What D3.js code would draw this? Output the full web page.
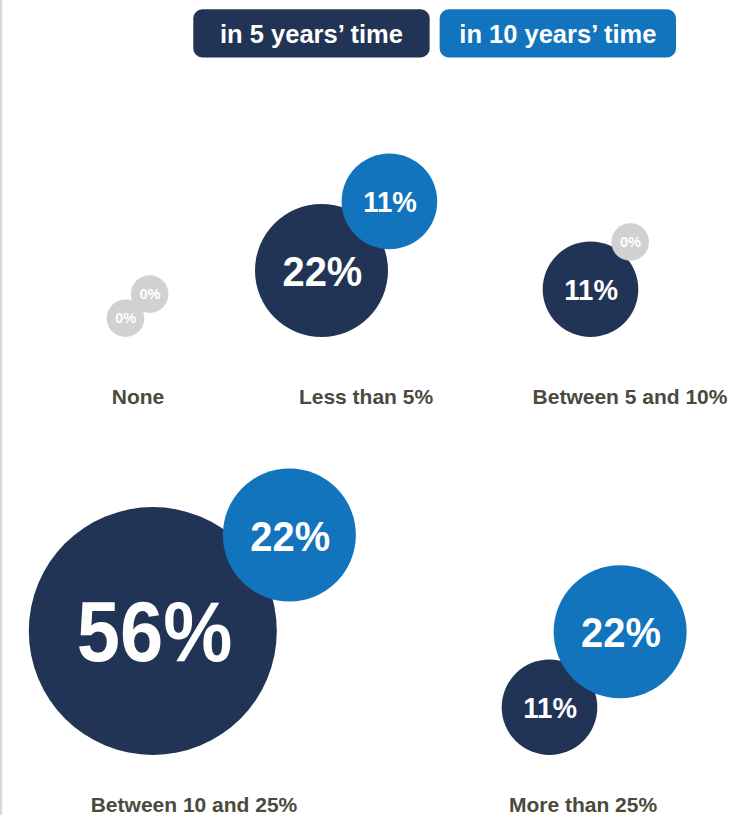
<!DOCTYPE html>
<html>
<head>
<meta charset="utf-8">
<script src="https://cdn.jsdelivr.net/npm/d3@7"></script>
<style>
  html, body { margin: 0; padding: 0; background: #ffffff; }
  svg { display: block; }
</style>
</head>
<body>
<script>
// Share of respondents by expected change, now +5 and +10 years
const categories = ["None", "Less than 5%", "Between 5 and 10%", "Between 10 and 25%", "More than 25%"];
const in5Years  = [0, 22, 11, 56, 11];
const in10Years = [0, 11, 0, 22, 22];
const seriesNames = ["in 5 years’ time", "in 10 years’ time"];

// Where each cluster sits: label centre, offset of the leading bubble,
// direction and overlap of the trailing bubble
const placement = [
  { row: 0, labelX: 138, lead: -12.5, angle: -45,   overlap: 3.5 },
  { row: 0, labelX: 366, lead: -44.5, angle: -45.5, overlap: 17.4 },
  { row: 0, labelX: 630, lead: -39.5, angle: -50,   overlap: 4.9 },
  { row: 1, labelX: 194, lead: -41.2, angle: -35.1, overlap: 23.6 },
  { row: 1, labelX: 583, lead: -33.5, angle: -46.9, overlap: 10.9 }
];
const rows = [
  { floor: 337, baseline: 403.5 },
  { floor: 755, baseline: 811.5 }
];

const W = 746, H = 815;
const colors = ["#223456", "#1274bd"];
const zeroColor = "#d0d1d3";
const labelColor = "#4a4a3e";
const font = "'Liberation Sans', Arial, Helvetica, sans-serif";

const svg = d3.select("body").append("svg")
  .attr("width", W).attr("height", H)
  .attr("viewBox", `0 0 ${W} ${H}`);

// left rule
svg.append("rect").attr("x", 0).attr("y", 0).attr("width", 2.2).attr("height", H)
  .attr("fill", "#d9d9d9");

// bubble radius and number size
const r = d3.scaleLinear().domain([0, 11, 22, 56]).range([18.8, 47.8, 66.5, 124]);
const fontSize = d3.scaleLinear().domain([18.8, 47.8, 124]).range([14.5, 30, 84.5]);

// legend
const legend = d3.scaleBand().domain(seriesNames).range([193.3, 676]).paddingInner(0.0406);
const lg = svg.append("g").attr("class", "legend");
seriesNames.forEach((name, i) => {
  lg.append("rect")
    .attr("x", legend(name)).attr("y", 9.3)
    .attr("width", legend.bandwidth()).attr("height", 48.2)
    .attr("rx", 9).attr("ry", 9)
    .attr("fill", colors[i]);
  lg.append("text")
    .attr("x", legend(name) + legend.bandwidth() / 2).attr("y", 43.3)
    .attr("text-anchor", "middle")
    .attr("font-family", font).attr("font-weight", "bold").attr("font-size", 25.5)
    .attr("fill", "#ffffff")
    .text(name);
});

// clusters
const clusters = categories.map((c, i) => {
  const p = placement[i];
  const row = rows[p.row];
  const r5 = r(in5Years[i]);
  const r10 = r(in10Years[i]);
  const cx5 = p.labelX + p.lead;
  const cy5 = row.floor - r5;
  const d = r5 + r10 - p.overlap;
  const a = p.angle * Math.PI / 180;
  return {
    category: c, row,
    labelX: p.labelX,
    bubbles: [
      { value: in5Years[i], series: 0, r: r5, cx: cx5, cy: cy5 },
      { value: in10Years[i], series: 1, r: r10, cx: cx5 + d * Math.cos(a), cy: cy5 + d * Math.sin(a) }
    ]
  };
});

const g = svg.selectAll("g.cluster").data(clusters).join("g").attr("class", "cluster");

const bubble = g.selectAll("g.bubble").data(d => d.bubbles).join("g").attr("class", "bubble");

bubble.append("circle")
  .attr("cx", d => d.cx).attr("cy", d => d.cy).attr("r", d => d.r)
  .attr("fill", d => d.value === 0 ? zeroColor : colors[d.series]);

bubble.append("text")
  .attr("transform", d => {
    const fs = fontSize(d.r);
    const sx = d.value === 0 ? 1 : 0.92;
    return `translate(${d.cx + fs * 0.02},${d.cy + 0.358 * fs}) scale(${sx},1)`;
  })
  .attr("text-anchor", "middle")
  .attr("font-family", font).attr("font-weight", "bold")
  .attr("font-size", d => fontSize(d.r))
  .attr("fill", "#ffffff")
  .text(d => d.value + "%");

g.append("text")
  .attr("x", d => d.labelX).attr("y", d => d.row.baseline)
  .attr("text-anchor", "middle")
  .attr("font-family", font).attr("font-weight", "bold").attr("font-size", 21)
  .attr("fill", labelColor)
  .text(d => d.category);
</script>
</body>
</html>
